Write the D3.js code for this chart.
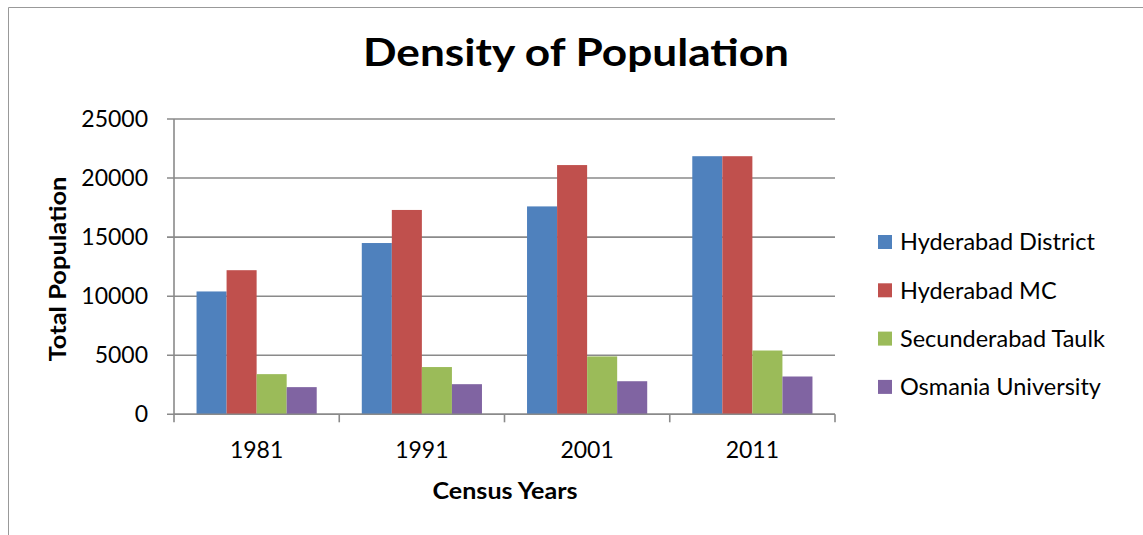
<!DOCTYPE html>
<html>
<head>
<meta charset="utf-8">
<script src="https://cdn.jsdelivr.net/npm/d3@7"></script>
<style>
  html, body { margin: 0; padding: 0; background: #fff; }
  svg { display: block; font-family: Lato, "Open Sans", sans-serif; }
</style>
</head>
<body>
<svg id="chart" width="1143" height="535"></svg>
<script>
// ---- data ----
const years = ["1981", "1991", "2001", "2011"];
const seriesNames = ["Hyderabad District", "Hyderabad MC", "Secunderabad Taulk", "Osmania University"];
const hyderabadDistrict = [10400, 14500, 17600, 21850];
const hyderabadMC = [12200, 17300, 21100, 21850];
const secunderabadTaulk = [3400, 4000, 4900, 5400];
const osmaniaUniversity = [2300, 2550, 2800, 3200];
const yTicks = [0, 5000, 10000, 15000, 20000, 25000];
const seriesColors = ["#4F81BD", "#C0504D", "#9BBB59", "#8064A2"];

const seriesValues = [hyderabadDistrict, hyderabadMC, secunderabadTaulk, osmaniaUniversity];

const svg = d3.select("#chart");
const gridColor = "#8a8a8a";

// chart border (outer frame)
svg.append("line").attr("x1", 8.5).attr("x2", 8.5).attr("y1", 7.5).attr("y2", 535)
  .attr("stroke", "#999").attr("stroke-width", 1);
svg.append("line").attr("x1", 8.5).attr("x2", 1143).attr("y1", 7.5).attr("y2", 7.5)
  .attr("stroke", "#999").attr("stroke-width", 1);

const plot = { left: 174, right: 835, top: 119, bottom: 414.3 };

const x = d3.scaleBand().domain(years).range([plot.left, plot.right]).padding(0);
const xs = d3.scaleBand().domain(d3.range(seriesNames.length))
  .range([0, x.bandwidth()]).paddingInner(0).paddingOuter(0.75);
const y = d3.scaleLinear().domain([0, 25000]).range([plot.bottom, plot.top]);

// gridlines
svg.append("g").selectAll("line").data(yTicks).join("line")
  .attr("x1", plot.left - 7).attr("x2", plot.right)
  .attr("y1", d => y(d)).attr("y2", d => y(d))
  .attr("stroke", gridColor).attr("stroke-width", 1.6);

// y axis line
svg.append("line").attr("x1", plot.left).attr("x2", plot.left)
  .attr("y1", plot.top).attr("y2", plot.bottom)
  .attr("stroke", gridColor).attr("stroke-width", 1.6);

// bars
const groups = svg.append("g").selectAll("g").data(years).join("g")
  .attr("transform", d => `translate(${x(d)},0)`);
groups.selectAll("rect")
  .data((yr, i) => seriesValues.map((vals, s) => ({ s, v: vals[i] })))
  .join("rect")
  .attr("x", d => xs(d.s))
  .attr("width", xs.bandwidth())
  .attr("y", d => y(d.v))
  .attr("height", d => y(0) - y(d.v))
  .attr("fill", d => seriesColors[d.s]);

// x axis line + boundary ticks
svg.append("line").attr("x1", plot.left).attr("x2", plot.right)
  .attr("y1", plot.bottom).attr("y2", plot.bottom)
  .attr("stroke", gridColor).attr("stroke-width", 1.6);
const boundaries = years.map(d => x(d)).concat([plot.right]);
svg.append("g").selectAll("line").data(boundaries).join("line")
  .attr("x1", d => d).attr("x2", d => d)
  .attr("y1", plot.bottom).attr("y2", plot.bottom + 8)
  .attr("stroke", gridColor).attr("stroke-width", 1.6);

// y tick labels
svg.append("g").selectAll("text").data(yTicks).join("text")
  .attr("x", 148).attr("y", d => y(d))
  .attr("dy", "0.35em")
  .attr("text-anchor", "end")
  .attr("font-size", 23)
  .attr("fill", "#000")
  .text(d => d);

// x tick labels
svg.append("g").selectAll("text").data(years).join("text")
  .attr("x", d => x(d) + x.bandwidth() / 2).attr("y", 450)
  .attr("dy", "0.35em")
  .attr("text-anchor", "middle")
  .attr("font-size", 23)
  .attr("fill", "#000")
  .text(d => d);

// title
svg.append("text").attr("x", 576).attr("y", 66)
  .attr("text-anchor", "middle").attr("font-size", 38).attr("font-weight", "bold")
  .attr("fill", "#000")
  .attr("textLength", 426).attr("lengthAdjust", "spacingAndGlyphs")
  .text("Density of Population");

// axis titles
svg.append("text").attr("x", 505).attr("y", 491)
  .attr("dy", "0.35em")
  .attr("text-anchor", "middle").attr("font-size", 22).attr("font-weight", "bold")
  .attr("textLength", 145).attr("lengthAdjust", "spacingAndGlyphs")
  .text("Census Years");
svg.append("text")
  .attr("transform", "translate(66,269) rotate(-90)")
  .attr("text-anchor", "middle").attr("font-size", 22).attr("font-weight", "bold")
  .attr("textLength", 185).attr("lengthAdjust", "spacingAndGlyphs")
  .text("Total Population");

// legend
const legend = svg.append("g").selectAll("g").data(seriesNames).join("g")
  .attr("transform", (d, i) => `translate(878,${242 + i * 48.3})`);
legend.append("rect").attr("x", 0).attr("y", -7).attr("width", 14).attr("height", 14)
  .attr("fill", (d, i) => seriesColors[i]);
legend.append("text").attr("x", 22).attr("y", 0).attr("dy", "0.35em")
  .attr("font-size", 23.5).attr("fill", "#000")
  .text(d => d);
</script>
</body>
</html>
